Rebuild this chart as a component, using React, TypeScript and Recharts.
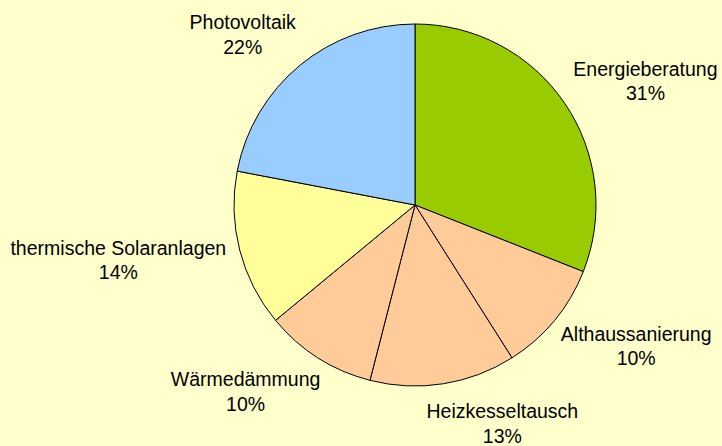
import React from "react";
import { PieChart, Pie, Cell } from "recharts";

const categories = [
  "Energieberatung",
  "Althaussanierung",
  "Heizkesseltausch",
  "Wärmedämmung",
  "thermische Solaranlagen",
  "Photovoltaik",
];
const shares = [31, 10, 13, 10, 14, 22];

const sliceColors = ["#99CC00", "#FFCC99", "#FFCC99", "#FFCC99", "#FFFF99", "#99CCFF"];

const data = categories.map((name, i) => ({ name, value: shares[i] }));

const FONT_SIZE = 19.5;
const FONT_FAMILY = "'Liberation Sans', Arial, sans-serif";
const LINE_GAP = 24.5;
const RADIAN = Math.PI / 180;

if (typeof document !== "undefined") {
  document.body.style.margin = "0";
}

const measure = (text: string) => {
  const ctx = document.createElement("canvas").getContext("2d");
  if (!ctx) return text.length * FONT_SIZE * 0.5;
  ctx.font = `${FONT_SIZE}px ${FONT_FAMILY}`;
  return ctx.measureText(text).width;
};

// places the label box just outside the slice, pushed out by its own half size
const renderLabel = (props: any) => {
  const { cx, cy, midAngle, outerRadius, name, value } = props;
  const ux = Math.cos(-midAngle * RADIAN);
  const uy = Math.sin(-midAngle * RADIAN);
  const dist = outerRadius + 15;
  const hw = measure(name) / 2;
  const xFactor = 0.7 + 0.3 * Math.abs(ux);
  const x = cx + dist * ux + Math.sign(ux) * hw * xFactor;
  const yc = cy + dist * uy + 25 * uy;
  const base1 = yc + 7 - LINE_GAP / 2;
  return (
    <text
      x={x}
      y={base1}
      textAnchor="middle"
      fill="#000"
      fontSize={FONT_SIZE}
      fontFamily={FONT_FAMILY}
    >
      <tspan x={x} y={base1}>{name}</tspan>
      <tspan x={x} y={base1 + LINE_GAP}>{`${value}%`}</tspan>
    </text>
  );
};

export default function App() {
  return (
    <div style={{ width: 722, height: 446, background: "#FFFFCC" }}>
      <PieChart width={722} height={446} margin={{ top: 0, right: 0, bottom: 0, left: 0 }}>
        <Pie
          data={data}
          dataKey="value"
          nameKey="name"
          cx={415}
          cy={205}
          outerRadius={181}
          startAngle={90}
          endAngle={-270}
          stroke="#000"
          strokeWidth={1}
          label={renderLabel}
          labelLine={false}
          isAnimationActive={false}
        >
          {data.map((d, i) => (
            <Cell key={d.name} fill={sliceColors[i]} />
          ))}
        </Pie>
      </PieChart>
    </div>
  );
}
